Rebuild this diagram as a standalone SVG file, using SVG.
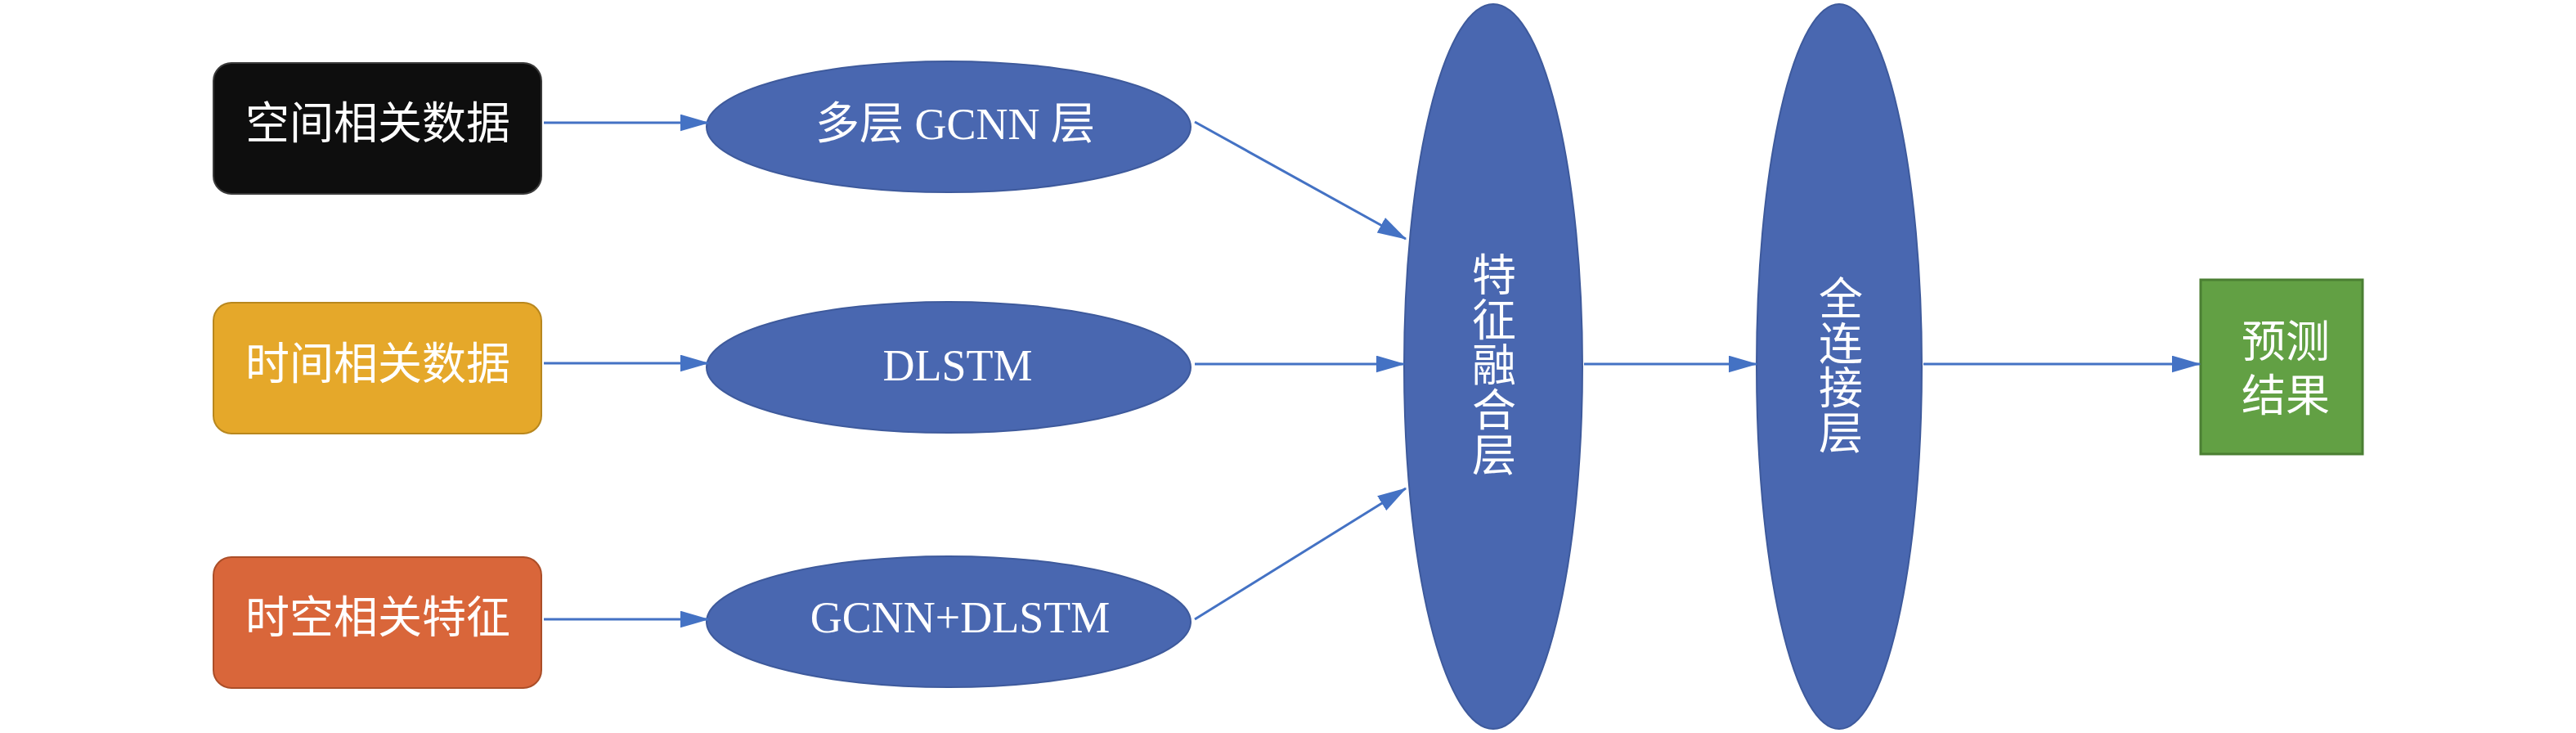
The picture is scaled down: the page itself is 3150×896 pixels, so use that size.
<svg xmlns="http://www.w3.org/2000/svg" width="3150" height="896" viewBox="0 0 3150 896">
<style>
.t{font-family:"Liberation Serif","Noto Sans CJK SC",serif;font-size:54px;fill:#ffffff;text-anchor:middle}
.ell{fill:#4967b0;stroke:#3e5a9c;stroke-width:2}
.con{stroke:#4472c4;stroke-width:3;fill:none;marker-end:url(#ah)}
</style>
<defs>
<marker id="ah" markerWidth="12" markerHeight="7" refX="11.5" refY="3.5" orient="auto" markerUnits="strokeWidth">
<path d="M0,0 L12,3.5 L0,7 Z" fill="#4472c4"/>
</marker>
</defs>
<rect width="3150" height="896" fill="#ffffff"/>
<g id="box1"><rect x="261" y="77" width="401" height="160" rx="22" fill="#0e0e0e" stroke="#3a3a3a" stroke-width="2"/><text class="t" x="462" y="170">空间相关数据</text></g>
<g id="box2"><rect x="261" y="370" width="401" height="160" rx="22" fill="#e5a82a" stroke="#b8871e" stroke-width="2"/><text class="t" x="462" y="464">时间相关数据</text></g>
<g id="box3"><rect x="261" y="681" width="401" height="160" rx="22" fill="#d9663a" stroke="#ab4e28" stroke-width="2"/><text class="t" x="462" y="774">时空相关特征</text></g>
<g id="ell1"><ellipse class="ell" cx="1160" cy="155" rx="296" ry="80"/><text class="t" x="1168" y="170">多层 GCNN 层</text></g>
<g id="ell2"><ellipse class="ell" cx="1160" cy="449" rx="296" ry="80"/><text class="t" x="1171" y="465">DLSTM</text></g>
<g id="ell3"><ellipse class="ell" cx="1160" cy="760" rx="296" ry="80"/><text class="t" x="1174" y="773">GCNN+DLSTM</text></g>
<g id="fusion"><ellipse class="ell" cx="1826" cy="448" rx="109" ry="443"/>
<text class="t" x="1827" y="356">特</text><text class="t" x="1827" y="411">征</text><text class="t" x="1827" y="466">融</text><text class="t" x="1827" y="521">合</text><text class="t" x="1827" y="576">层</text></g>
<g id="fc"><ellipse class="ell" cx="2249" cy="448" rx="101" ry="443"/>
<text class="t" x="2251" y="385">全</text><text class="t" x="2251" y="440">连</text><text class="t" x="2251" y="494">接</text><text class="t" x="2251" y="549">层</text></g>
<g id="result"><rect x="2691" y="342" width="198" height="213" fill="#62a044" stroke="#4b7f33" stroke-width="3"/>
<text class="t" x="2795" y="437">预测</text><text class="t" x="2795" y="503">结果</text></g>
<g id="connectors">
<line class="con" x1="665" y1="150" x2="866" y2="150"/>
<line class="con" x1="665" y1="444" x2="866" y2="444"/>
<line class="con" x1="665" y1="757" x2="866" y2="757"/>
<line class="con" x1="1461" y1="149" x2="1719" y2="292"/>
<line class="con" x1="1461" y1="445" x2="1717" y2="445"/>
<line class="con" x1="1461" y1="757" x2="1719" y2="597"/>
<line class="con" x1="1937" y1="445" x2="2148" y2="445"/>
<line class="con" x1="2352" y1="445" x2="2690" y2="445"/>
</g>
</svg>
